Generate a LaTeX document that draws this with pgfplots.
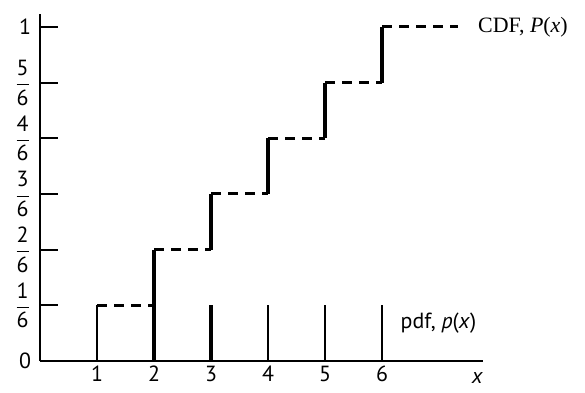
\documentclass[border=0pt]{standalone}
\usepackage{fontspec}
\setmainfont{PT Sans}
\newfontfamily\serif{Liberation Serif}
\usepackage{pgfplots}
\pgfplotsset{compat=1.18}
\newcommand\fr[2]{$\displaystyle\frac{\mbox{#1}}{\mbox{#2}}$}
\begin{document}
\begin{tikzpicture}
\begin{axis}[
  anchor=origin, at={(0,0)},
  x=28.5bp, y=167bp,
  xmin=0, xmax=7.77, ymin=0, ymax=1.04,
  axis x line=bottom, axis y line=left,
  axis line style={line width=1.1bp, -},
  xtick={1,2,3,4,5,6},
  xticklabels={1,2,3,4,5,6},
  x tick style={draw=none},
  ytick={0,0.16667,0.33333,0.5,0.66667,0.83333,1},
  yticklabels={0,\fr{1}{6},\fr{2}{6},\fr{3}{6},\fr{4}{6},\fr{5}{6},1},
  y tick style={line width=1.1bp, black},
  tick align=inside, major tick length=9bp,
  /pgf/number format/assume math mode=true,
  tick label style={font=\fontsize{11}{13}\selectfont},
  yticklabel style={xshift=-1bp},
  xticklabel style={yshift=1bp},
  clip=false,
]
% pdf, thin stems
\addplot[ycomb, black, line width=1.1bp, no marks] coordinates {(1,0.16667)(4,0.16667)(5,0.16667)(6,0.16667)};
% thick stems at 2 and 3
\addplot[ycomb, black, line width=2bp, no marks] coordinates {(2,0.33333)(3,0.16667)};
% CDF jumps (solid, thick)
\addplot[black, line width=2bp, no marks, unbounded coords=jump] coordinates {
(3,0.33333)(3,0.5)(nan,nan)
(4,0.5)(4,0.66667)(nan,nan)
(5,0.66667)(5,0.83333)(nan,nan)
(6,0.83333)(6,1)};
% CDF levels (dashed)
\addplot[black, line width=1.5bp, no marks, dash pattern=on 5bp off 3.5bp, unbounded coords=jump] coordinates {
(1,0.16667)(2,0.16667)(nan,nan)
(2,0.33333)(3,0.33333)(nan,nan)
(3,0.5)(4,0.5)(nan,nan)
(4,0.66667)(5,0.66667)(nan,nan)
(5,0.83333)(6,0.83333)(nan,nan)
(6,1)(7.33,1)};
\node[anchor=west, font=\serif\fontsize{11}{13}\selectfont, inner sep=0] at (axis cs:7.68,1) {CDF, \textit{P}(\textit{x})};
\node[anchor=west, font=\fontsize{11}{13}\selectfont, inner sep=0] at (axis cs:6.32,0.113) {pdf, \textit{p}(\textit{x})};
\node[font=\fontsize{11}{13}\selectfont\itshape] at (axis cs:7.67,-0.052) {x};
\end{axis}
\pgfresetboundingbox
\path[use as bounding box] (-20bp,-16bp) rectangle (272.5bp,180.5bp);
\end{tikzpicture}
\end{document}
